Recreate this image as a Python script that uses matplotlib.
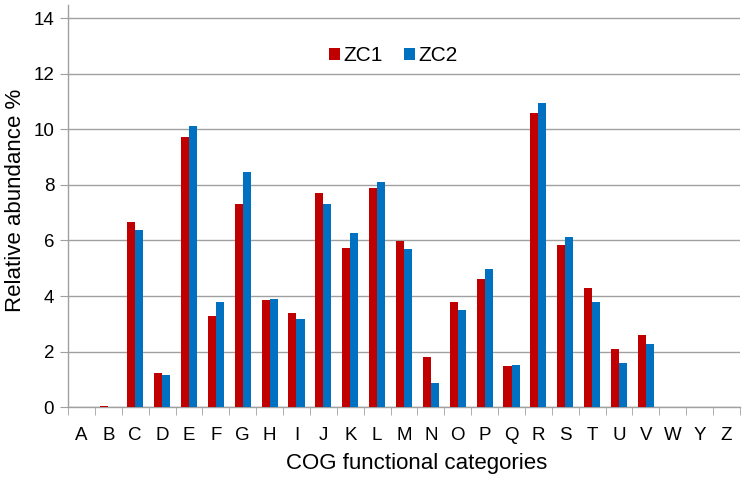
import numpy as np
import matplotlib.pyplot as plt

plt.rcParams['font.family'] = ['Liberation Sans', 'DejaVu Sans']

categories = ['A', 'B', 'C', 'D', 'E', 'F', 'G', 'H', 'I', 'J', 'K', 'L', 'M',
              'N', 'O', 'P', 'Q', 'R', 'S', 'T', 'U', 'V', 'W', 'Y', 'Z']
zc1 = [0.02, 0.04, 6.67, 1.24, 9.71, 3.29, 7.32, 3.86, 3.40, 7.71, 5.72, 7.90, 5.99,
       1.79, 3.77, 4.61, 1.49, 10.57, 5.84, 4.29, 2.10, 2.60, 0.0, 0.0, 0.02]
zc2 = [0.0, 0.01, 6.37, 1.15, 10.11, 3.77, 8.45, 3.88, 3.17, 7.32, 6.27, 8.12, 5.70,
       0.87, 3.50, 4.97, 1.51, 10.93, 6.11, 3.77, 1.59, 2.29, 0.0, 0.0, 0.0]
yticks = [0, 2, 4, 6, 8, 10, 12, 14]

fig = plt.figure(figsize=(7.45, 4.79), dpi=100)
ax = fig.add_axes([0.0913, 0.150, 0.902, 0.840])

x = np.arange(len(categories))
w = 0.3
ax.bar(x - w / 2, zc1, width=w, color='#C00000', label='ZC1', zorder=3)
ax.bar(x + w / 2, zc2, width=w, color='#0070C0', label='ZC2', zorder=3)

ax.set_xlim(-0.5, len(categories) - 0.5)
ax.set_ylim(0, 14.48)
ax.set_yticks(yticks)
ax.set_yticklabels([str(t) for t in yticks], fontsize=13.5)
ax.yaxis.grid(True, color='#A0A0A0', linewidth=1, zorder=0)
ax.tick_params(axis='y', length=6, color='#A0A0A0', pad=4)

# category labels centred, ticks between categories
ax.set_xticks(x)
ax.set_xticklabels(categories, fontsize=13.5)
ax.set_xticks(np.arange(-0.5, len(categories)), minor=True)
ax.tick_params(axis='x', which='major', length=0, pad=14)
ax.tick_params(axis='x', which='minor', length=6, color='#A0A0A0')

for s in ['top', 'right']:
    ax.spines[s].set_visible(False)
for s in ['left', 'bottom']:
    ax.spines[s].set_color('#A0A0A0')
    ax.spines[s].set_linewidth(1)

ax.set_ylabel('Relative abundance %', fontsize=16)
ax.set_xlabel('COG functional categories', fontsize=16)
ax.yaxis.set_label_coords(-0.0625, 0.513)
ax.xaxis.set_label_coords(0.519, -0.113)

ax.legend(loc='center', bbox_to_anchor=(0.484, 0.873), ncol=2, frameon=False,
          fontsize=15, handlelength=0.55, handleheight=0.55, handletextpad=0.15,
          columnspacing=1.0)

fig.savefig('out.png', dpi=100)
